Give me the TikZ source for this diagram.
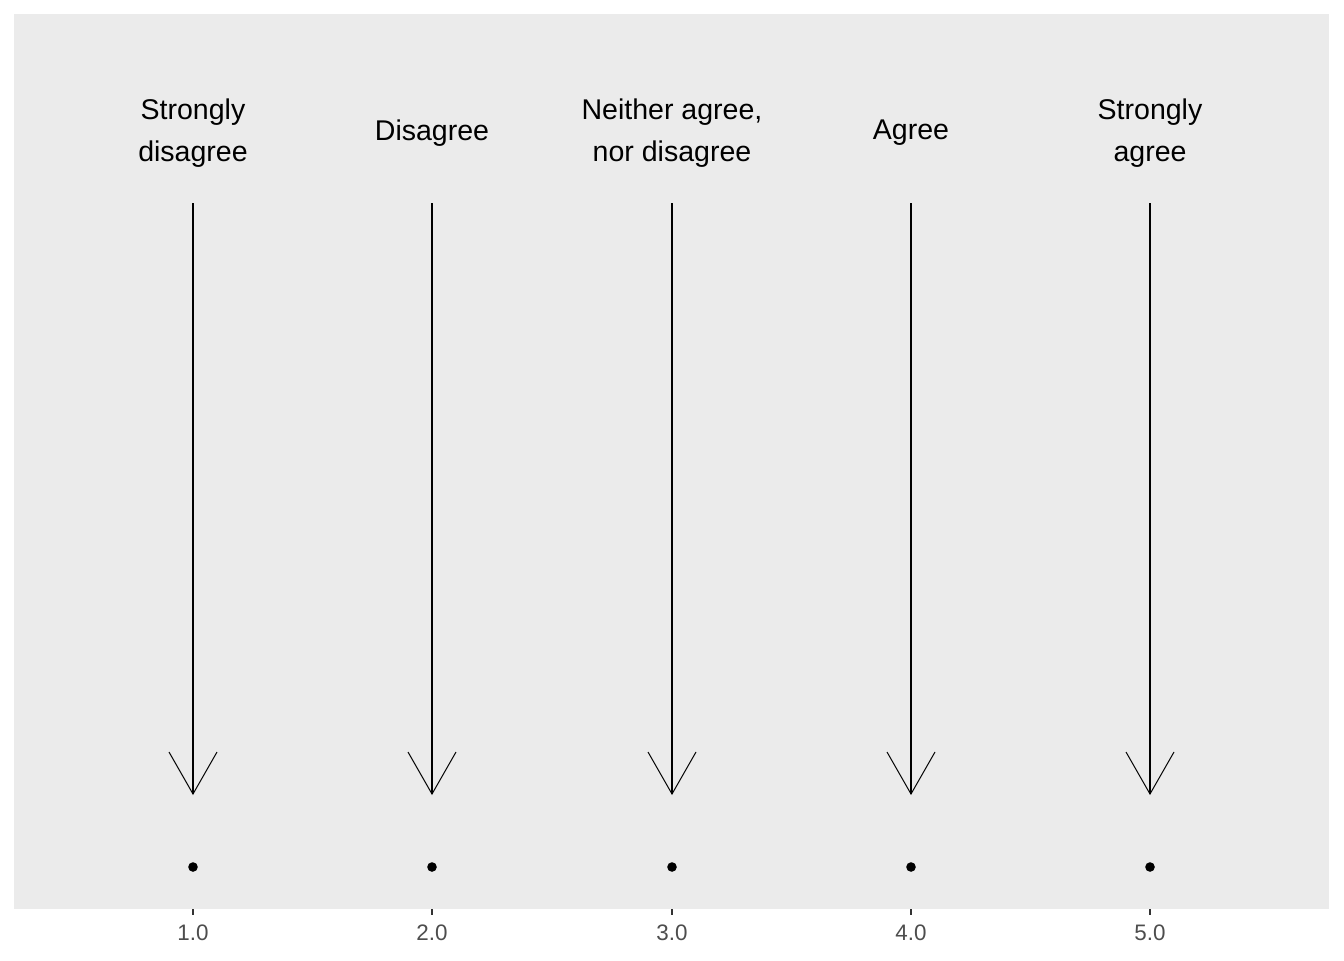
\documentclass[tikz,border=0pt]{standalone}
\usepackage{fontspec}
\setmainfont{Liberation Sans}
\usetikzlibrary{arrows.meta}
\definecolor{panelgray}{RGB}{235,235,235}
\definecolor{tickgray}{RGB}{51,51,51}
\definecolor{ticklabelgray}{RGB}{77,77,77}
\tikzset{
  catlabel/.style={align=center, inner sep=0pt, font=\fontsize{21.4}{31.5}\selectfont},
  levelarrow/.style={line width=0.85pt, -{Straight Barb[length=31.5pt,width=36pt,line width=0.75pt]}},
  levelpoint/.style={circle, fill=black, inner sep=0pt, minimum size=7.2pt},
  axistick/.style={line width=0.9pt, draw=tickgray},
  ticklabel/.style={inner sep=0pt, text=ticklabelgray, font=\fontsize{16.8}{19}\selectfont}
}
\begin{document}
\begin{tikzpicture}[x=0.75pt,y=0.75pt,yscale=-1,xscale=1]
  \useasboundingbox (0,0) rectangle (1344,960);
  %Shape: Panel
  \fill [panelgray] (14,14) rectangle (1329,909);

  % Text Node
  \node [catlabel] (lab1) at (193,133) {Strongly\\disagree};
  % Text Node
  \node [catlabel] (lab2) at (432,133) {Disagree};
  % Text Node
  \node [catlabel] (lab3) at (672,133) {Neither agree,\\nor disagree};
  % Text Node
  \node [catlabel] (lab4) at (911,133) {Agree};
  % Text Node
  \node [catlabel] (lab5) at (1150,133) {Strongly\\agree};

  %Arrows
  \coordinate (top1) at (193,203); \coordinate (tip1) at (193,795);
  \coordinate (top2) at (432,203); \coordinate (tip2) at (432,795);
  \coordinate (top3) at (672,203); \coordinate (tip3) at (672,795);
  \coordinate (top4) at (911,203); \coordinate (tip4) at (911,795);
  \coordinate (top5) at (1150,203); \coordinate (tip5) at (1150,795);
  \draw [levelarrow] (top1) -- (tip1);
  \draw [levelarrow] (top2) -- (tip2);
  \draw [levelarrow] (top3) -- (tip3);
  \draw [levelarrow] (top4) -- (tip4);
  \draw [levelarrow] (top5) -- (tip5);

  %Shape: Points
  \node [levelpoint] (pt1) at (193,867) {};
  \node [levelpoint] (pt2) at (432,867) {};
  \node [levelpoint] (pt3) at (672,867) {};
  \node [levelpoint] (pt4) at (911,867) {};
  \node [levelpoint] (pt5) at (1150,867) {};

  %Axis ticks and labels
  \coordinate (tk1) at (193,909); \coordinate (tk2) at (432,909);
  \coordinate (tk3) at (672,909); \coordinate (tk4) at (911,909);
  \coordinate (tk5) at (1150,909);
  \node [ticklabel] (tl1) at (193,933) {1.0};
  \node [ticklabel] (tl2) at (432,933) {2.0};
  \node [ticklabel] (tl3) at (672,933) {3.0};
  \node [ticklabel] (tl4) at (911,933) {4.0};
  \node [ticklabel] (tl5) at (1150,933) {5.0};
  \draw [axistick] (tk1) -- ++(0,6);
  \draw [axistick] (tk2) -- ++(0,6);
  \draw [axistick] (tk3) -- ++(0,6);
  \draw [axistick] (tk4) -- ++(0,6);
  \draw [axistick] (tk5) -- ++(0,6);
\end{tikzpicture}
\end{document}
